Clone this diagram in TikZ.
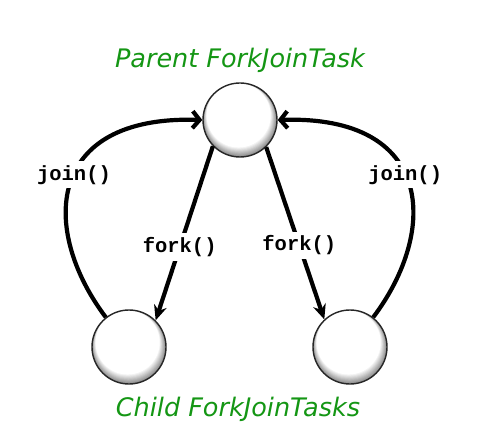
\documentclass[tikz,border=0pt]{standalone}
\usepackage{fontspec}
\setmainfont{DejaVu Sans}
\setmonofont{Liberation Mono}
\usepackage{xcolor}
\usetikzlibrary{arrows.meta,positioning}
\definecolor{taskgreen}{RGB}{20,150,20}

\begin{document}
\begin{tikzpicture}[x=1pt, y=-1pt,
		task/.style={circle, draw=black!85, line width=1.4pt, minimum size=74pt, inner sep=0pt, fill=white,
			path picture={
				\foreach \k in {0,...,9} {
					\fill[black!\the\numexpr 45-5*\k\relax] ([xshift=-0.15*\k pt, yshift=0.5*\k pt]path picture bounding box.center) circle ({37-0.55*\k pt});
				}
				\fill[white] ([xshift=-1.5pt, yshift=5pt]path picture bounding box.center) circle (31pt);
			}},
		call/.style={fill=white, inner sep=4pt, font=\ttfamily\bfseries\fontsize{20.5}{20.5}\selectfont},
		caption/.style={text=taskgreen, font=\itshape\fontsize{25.5}{25.5}\selectfont},
		forkline/.style={line width=4.2pt, -{Stealth[length=15pt, width=13pt]}},
		joinline/.style={line width=4.2pt, -{Straight Barb[length=7pt, width=17pt]}}]
			\useasboundingbox (0,0) rectangle (489,446);
			\node[task] (parent) at (240,120) {};
			\node[task] (left) at (129,347) {};
			\node[task] (right) at (350,347) {};
			\node[caption] (ptitle) at (240,60) {Parent ForkJoinTask};
			\node[caption] (ctitle) at (238,409) {Child ForkJoinTasks};
			\draw[forkline] (parent.-136) -- node[call, pos=0.58] {fork()} (left.45);
			\draw[forkline] (parent.-46) -- node[call, pos=0.57] {fork()} (right.133);
			\draw[joinline] (left.128) .. controls (40,230) and (45,115) .. node[call, pos=0.54] {join()} (parent.west);
			\draw[joinline] (right.52) .. controls (439,230) and (434,115) .. node[call, pos=0.54] {join()} (parent.east);
		\end{tikzpicture}
\end{document}
